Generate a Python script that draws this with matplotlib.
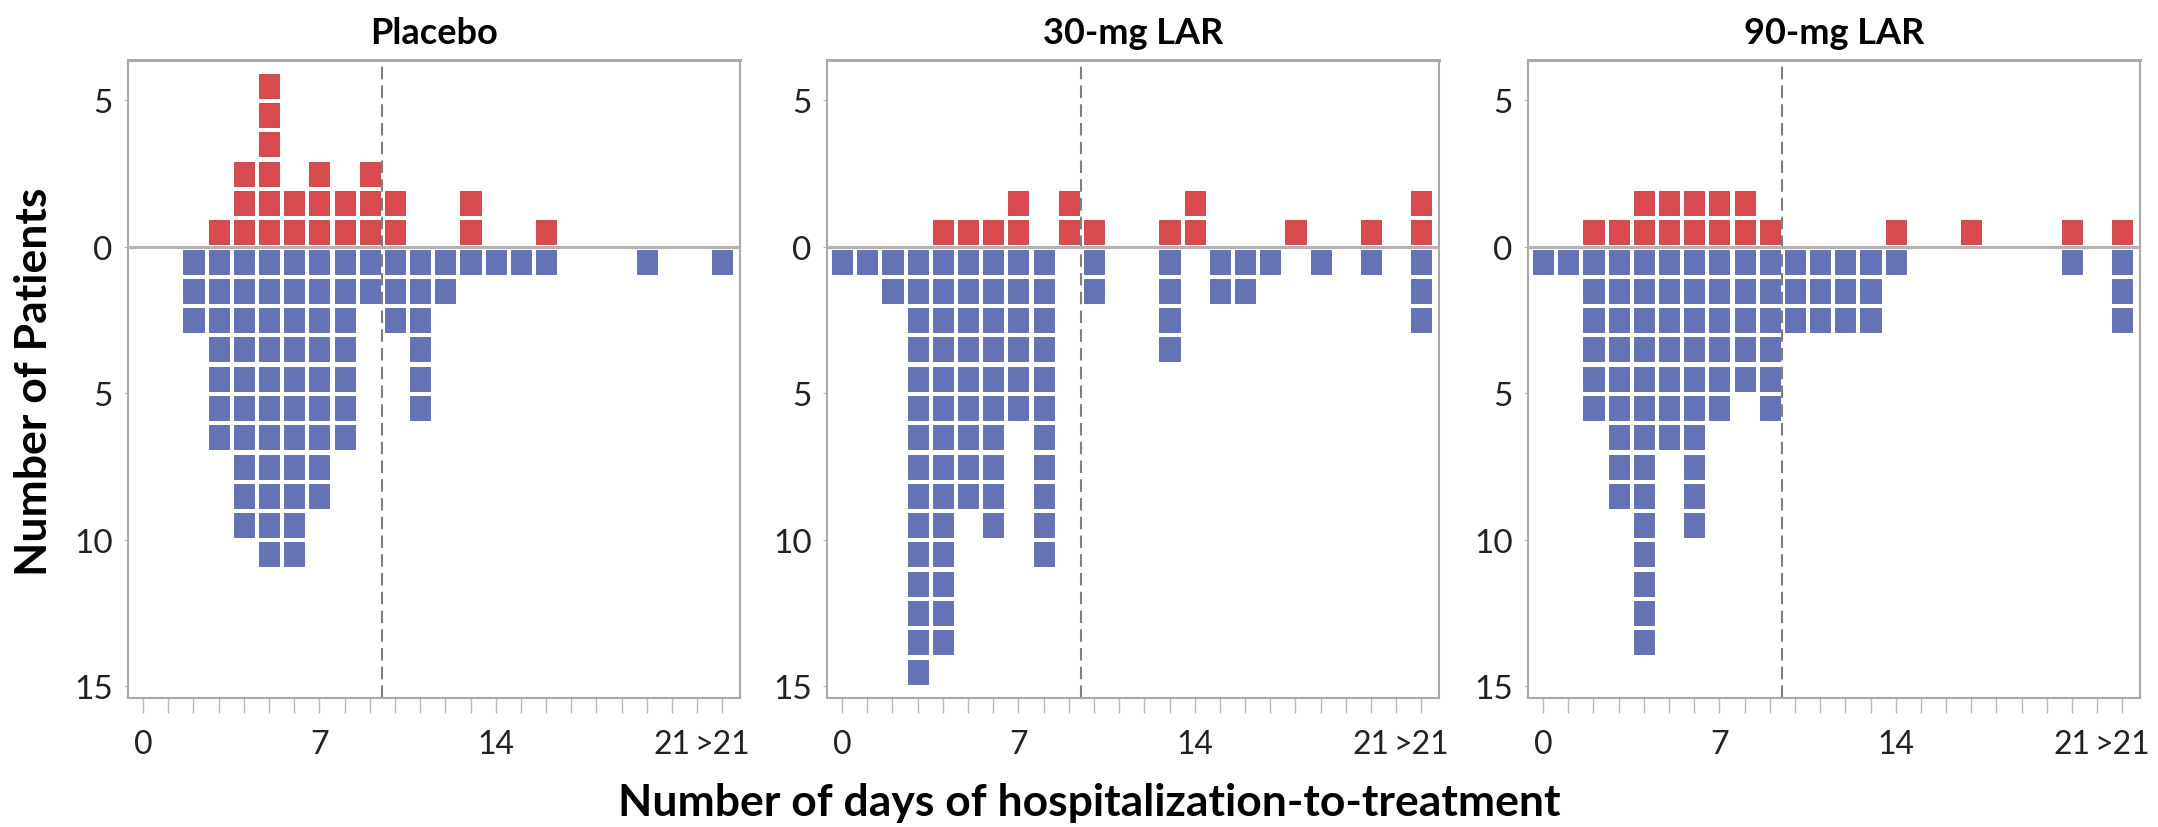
import numpy as np
import matplotlib
matplotlib.use("Agg")
import matplotlib.pyplot as plt
from matplotlib import font_manager

# ----------------------------
# Data
# ----------------------------
# day 0..21, position 23 holds the ">21" group
days = list(range(24))
panel_titles = ["Placebo", "30-mg LAR", "90-mg LAR"]

# patients above the line (red) and below the line (blue), per day
placebo_up   = [0, 0, 0, 1, 3, 6, 2, 3, 2, 3, 2, 0, 0, 2, 0, 0, 1, 0, 0, 0, 0, 0, 0, 0]
placebo_down = [0, 0, 3, 7, 10, 11, 11, 9, 7, 2, 3, 6, 2, 1, 1, 1, 1, 0, 0, 0, 1, 0, 0, 1]
lar30_up     = [0, 0, 0, 0, 1, 1, 1, 2, 0, 2, 1, 0, 0, 1, 2, 0, 0, 0, 1, 0, 0, 1, 0, 2]
lar30_down   = [1, 1, 2, 15, 14, 9, 10, 6, 11, 0, 2, 0, 0, 4, 0, 2, 2, 1, 0, 1, 0, 1, 0, 3]
lar90_up     = [0, 0, 1, 1, 2, 2, 2, 2, 2, 1, 0, 0, 0, 0, 1, 0, 0, 1, 0, 0, 0, 1, 0, 1]
lar90_down   = [1, 1, 6, 9, 14, 7, 10, 6, 5, 6, 3, 3, 3, 3, 1, 0, 0, 0, 0, 0, 0, 1, 0, 3]

xtick_pos = [0, 7, 14, 21, 23]
xtick_labels = ["0", "7", "14", "21", ">21"]
ytick_pos = [5, 0, -5, -10, -15]
ytick_labels = ["5", "0", "5", "10", "15"]
cutoff_day = 9.5

# ----------------------------
# Style
# ----------------------------
RED = "#d94b4f"
RED_EDGE = "#c23c41"
BLUE = "#6572b6"
BLUE_EDGE = "#5a66a8"
SPINE = "#a9a9a9"

avail = {f.name for f in font_manager.fontManager.ttflist}
base_font = "Lato" if "Lato" in avail else "DejaVu Sans"
plt.rcParams["font.family"] = [base_font, "DejaVu Sans"]

fig = plt.figure(figsize=(21.58, 8.28), dpi=100)

W, H = 2158.0, 828.0
lefts = [128, 827, 1528]
ax_w = 612
ax_top, ax_bot = 61, 699

groups = [(placebo_up, placebo_down), (lar30_up, lar30_down), (lar90_up, lar90_down)]

bw = 0.8   # block width
bh = 0.82  # block height

for i, (title, (up, down)) in enumerate(zip(panel_titles, groups)):
    ax = fig.add_axes([lefts[i] / W, 1 - ax_bot / H, ax_w / W, (ax_bot - ax_top) / H])

    # stacked unit blocks, one bar call per row level
    up = np.array(up)
    down = np.array(down)
    for k in range(up.max()):
        xs = [d for d, n in zip(days, up) if n > k]
        ax.bar(xs, bh, bottom=k + (1 - bh) / 2, width=bw, color=RED,
               edgecolor=RED_EDGE, linewidth=0.6, zorder=2)
    for k in range(down.max()):
        xs = [d for d, n in zip(days, down) if n > k]
        ax.bar(xs, bh, bottom=-(k + 1) + (1 - bh) / 2, width=bw, color=BLUE,
               edgecolor=BLUE_EDGE, linewidth=0.6, zorder=2)

    ax.axhline(0, color="#b4b4b4", lw=2.3, zorder=3)
    ax.axvline(cutoff_day, color="#7f7f7f", lw=1.5, ls=(0, (6, 3)), zorder=1)

    ax.set_xlim(-0.6, 23.7)
    ax.set_ylim(-15.4, 6.38)

    ax.set_xticks(days, minor=True)
    ax.set_xticks(xtick_pos)
    ax.set_xticklabels(xtick_labels, fontsize=23, color="#222222")
    ax.tick_params(axis="x", which="both", length=11, width=1, color="#b8b8b8",
                   direction="out", pad=11)
    ax.set_yticks(ytick_pos)
    ax.set_yticklabels(ytick_labels, fontsize=24, color="#222222")
    ax.tick_params(axis="y", length=3, width=0.8, color="#b8b8b8", pad=8)

    for s in ax.spines.values():
        s.set_color(SPINE)
        s.set_linewidth(1.5)
    ax.spines["top"].set_linewidth(2.2)

    ax.set_title(title, fontsize=26, fontweight="bold", pad=12)

fig.text(34 / W, 1 - 382 / H, "Number of Patients", rotation=90, ha="center",
         va="center", fontsize=32, fontweight="bold")
fig.text(1089 / W, 1 - 803 / H, "Number of days of hospitalization-to-treatment",
         ha="center", va="center", fontsize=32, fontweight="bold")

fig.savefig("out.png", dpi=100, facecolor="white")
